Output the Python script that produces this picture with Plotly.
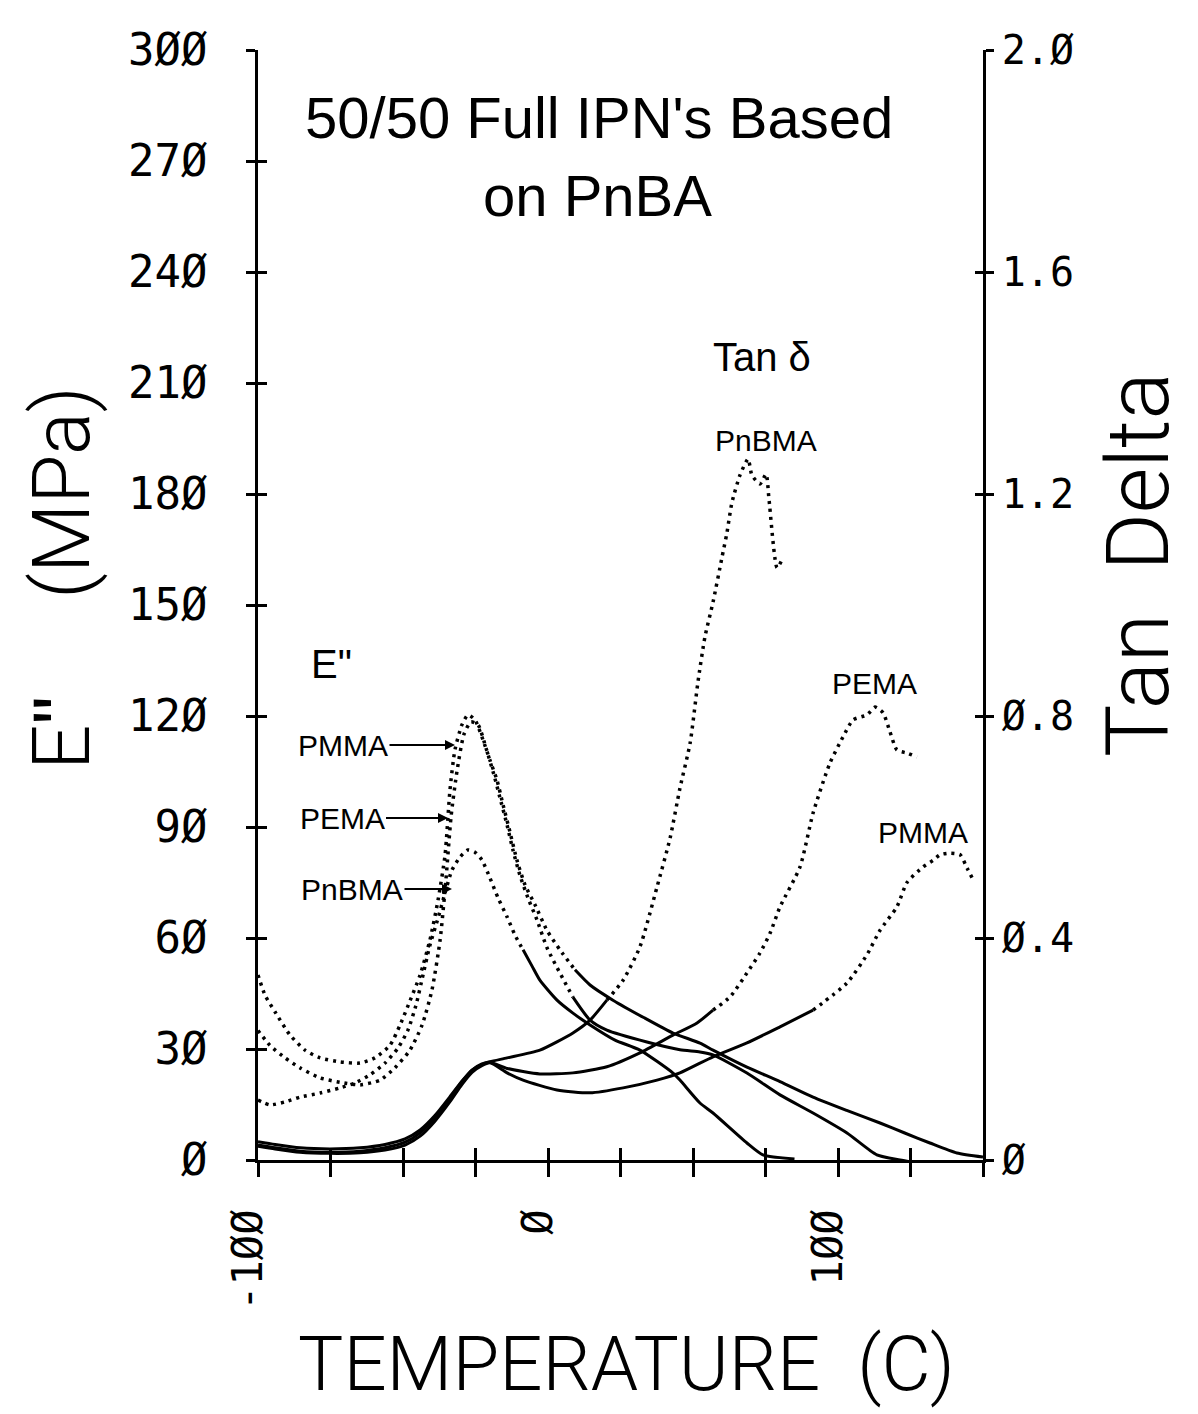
import plotly.graph_objects as go

# ---------------- data ----------------
# E'' (MPa), left axis
epp_pmma_T = [-100, -97.6, -94.1, -89, -83.8, -78.6, -71.7, -64.8, -59.7, -54.5,
              -51, -47.6, -44.1, -40.7, -37.9, -35.5, -33.8, -32.1, -29.7, -27.6,
              -25.2, -22.4, -20, -17.6, -15.5, -13.1, -10.7, -7.9, -4.5, -0.3,
              4.1, 9.3, 14.5, 22.4, 33, 43.1, 52.4, 56.9, 68.6, 80,
              91.4, 103, 114.5, 123, 131.7, 141, 150]
epp_pmma = [50, 44.6, 40, 33.8, 29.7, 27.6, 26.5, 26.2, 27.6, 31,
            36.5, 43, 50, 59.5, 70.3, 82.4, 100, 110.8, 117.6, 120.3,
            119, 113.5, 108, 102.7, 96, 88.6, 81, 74.3, 69, 62,
            56.8, 51.4, 47.3, 43.2, 38.5, 34.3, 31.6, 29.7, 25.1, 21.2,
            17, 13.4, 10, 7.3, 4.6, 1.9, 0.8]

epp_pema_T = [-100, -95.9, -90.7, -85.5, -78.6, -71.7, -64.8, -57.9, -52.8, -47.6,
              -43.4, -40, -37.2, -35.2, -33.4, -31.4, -29, -26.6, -24.1, -21.4,
              -18.6, -16.6, -14.1, -12.1, -9.7, -6.9, -3.8, -0.3, 8.6, 14.5,
              20.3, 34.1, 45.5, 52.4, 56.9, 68.6, 80, 91.4, 103.1, 113.4,
              121.4, 131.7]
epp_pema = [35, 31, 27.6, 24.9, 22.2, 21, 20.3, 21.6, 24.9, 29.7,
            36.5, 46, 59.5, 75.7, 93, 105, 115, 118.4, 117.6, 111.4,
            104, 98, 90.5, 83.8, 77, 70.8, 64.9, 57.3, 44, 37.8,
            35.1, 31.9, 29.8, 29.2, 28.4, 23.5, 17.6, 12.7, 7.3, 1.4,
            0, -1.4]

epp_pnbma_T = [-100, -95.9, -90.7, -85.5, -78.6, -71.7, -66.6, -61.4, -56.2, -51.7,
               -48.3, -45.5, -43.1, -40.7, -37.9, -35.5, -33.1, -30.3, -27.6, -25.2,
               -22.8, -20, -17.2, -14.1, -11.4, -8.6, -5.5, -2.8, 3.1, 8.6,
               14.5, 23.1, 31.7, 43.1, 45.5, 52.4, 56.9, 68.6, 74.1, 85]
epp_pnbma = [16.2, 14.9, 15.7, 17, 18.1, 19.5, 20.8, 23, 26.2, 30.3,
             35.1, 41.9, 50, 58.1, 65.4, 72.2, 78.4, 81.9, 83.8, 83.2,
             81.1, 76.2, 70.8, 65.7, 60.8, 56.8, 52.4, 48.6, 43.2, 39.7,
             36.5, 32.4, 29.7, 23.5, 21.6, 15.4, 12.7, 4.6, 1.4, 0.3]

# Tan delta, right axis
tan_pnbma_T = [-100, -94.1, -85.5, -75.2, -64.8, -56.2, -49.3, -44.1, -39, -33.8,
               -29.7, -26.2, -22.8, -20, -14.1, -2.8, 8.6, 14.5, 20.3, 25.9,
               31.7, 37.6, 42.1, 45.5, 49, 51.7, 54.1, 56.9, 60, 61.7,
               63.4, 66.2, 69, 70.3, 73.1, 75.2, 76.2, 79, 81]
tan_pnbma = [0.027, 0.022, 0.016, 0.014, 0.016, 0.022, 0.032, 0.049, 0.076, 0.112,
             0.141, 0.162, 0.173, 0.177, 0.184, 0.198, 0.229, 0.252, 0.288, 0.324,
             0.384, 0.492, 0.58, 0.67, 0.751, 0.861, 0.942, 1.005, 1.086, 1.13,
             1.184, 1.234, 1.263, 1.234, 1.218, 1.236, 1.191, 1.067, 1.085]

tan_pema_T = [-100, -94.1, -85.5, -75.2, -64.8, -56.2, -49.3, -44.1, -39, -33.8,
              -29.7, -26.2, -22.8, -20, -14.1, -2.8, 8.6, 20.3, 31.7, 43.1,
              51.4, 56.9, 62.8, 68.6, 73.1, 76.6, 80, 86.9, 91.4, 97.2,
              101.7, 105.2, 110, 112.8, 115.5, 117.9, 120.3, 124, 127.2]
tan_pema = [0.033, 0.028, 0.022, 0.02, 0.022, 0.028, 0.038, 0.054, 0.08, 0.114,
            0.142, 0.162, 0.172, 0.176, 0.165, 0.155, 0.157, 0.168, 0.193, 0.225,
            0.247, 0.27, 0.294, 0.337, 0.373, 0.409, 0.456, 0.528, 0.625, 0.715,
            0.762, 0.793, 0.802, 0.816, 0.806, 0.772, 0.739, 0.733, 0.726]

tan_pmma_T = [-100, -94.1, -85.5, -75.2, -64.8, -56.2, -49.3, -44.1, -39, -33.8,
              -29.7, -26.2, -22.8, -20, -14.1, -8.6, 3.1, 14.5, 25.9, 37.6,
              45.5, 56.9, 68.6, 80, 91.4, 103.1, 110, 114.5, 120.3, 123.8,
              129.3, 132.8, 135.2, 138.6, 142.1, 144.5, 146.6]
tan_pmma = [0.025, 0.02, 0.014, 0.012, 0.013, 0.018, 0.027, 0.043, 0.07, 0.105,
            0.136, 0.158, 0.17, 0.175, 0.157, 0.144, 0.126, 0.121, 0.13, 0.144,
            0.157, 0.186, 0.211, 0.24, 0.27, 0.319, 0.37, 0.414, 0.456, 0.5,
            0.528, 0.54, 0.55, 0.553, 0.55, 0.526, 0.505]

# ticks
x_tickvals = [-100, -75, -50, -25, 0, 25, 50, 75, 100, 125, 150]
x_ticktext = ["-1ØØ", "", "", "", "Ø", "", "", "", "1ØØ", "", ""]
y_tickvals = [0, 30, 60, 90, 120, 150, 180, 210, 240, 270, 300]
y_ticktext = ["Ø", "3Ø", "6Ø", "9Ø", "12Ø", "15Ø", "18Ø", "21Ø", "24Ø", "27Ø", "3ØØ"]
y2_tickvals = [0, 0.4, 0.8, 1.2, 1.6, 2.0]
y2_ticktext = ["Ø", "Ø.4", "Ø.8", "1.2", "1.6", "2.Ø"]

# ---------------- layout helpers ----------------
W, H = 1198, 1414
L, R, T, B = 258, 983, 50, 1160


def px(x):
    return (x - L) / (R - L)


def py(y):
    return (B - y) / (B - T)


def split(ts, vs, cut, solid_after):
    """split a curve at temperature `cut` into dotted / solid parts (style only)"""
    lo = [(t, v) for t, v in zip(ts, vs) if t <= cut]
    hi = [(t, v) for t, v in zip(ts, vs) if t >= cut]
    if lo and hi and lo[-1] != hi[0]:
        hi = [lo[-1]] + hi
    dotted, solid = (lo, hi) if solid_after else (hi, lo)
    return dotted, solid


fig = go.Figure()

DOT = dict(color="black", width=3.5, dash="3px,5px")
SOLID = dict(color="black", width=3)


def add_curve(ts, vs, cut, solid_after, yaxis, name):
    dotted, solid = split(ts, vs, cut, solid_after)
    for part, style in ((dotted, DOT), (solid, SOLID)):
        if len(part) > 1:
            fig.add_trace(go.Scatter(x=[p[0] for p in part], y=[p[1] for p in part],
                                     mode="lines", line=dict(shape="spline", smoothing=0.6, **style),
                                     yaxis=yaxis, name=name, hoverinfo="skip"))


add_curve(epp_pmma_T, epp_pmma, 10, True, "y", "E'' PMMA")
add_curve(epp_pema_T, epp_pema, 10, True, "y", "E'' PEMA")
add_curve(epp_pnbma_T, epp_pnbma, -6, True, "y", "E'' PnBMA")
add_curve(tan_pnbma_T, tan_pnbma, 22, False, "y2", "tan PnBMA")
add_curve(tan_pema_T, tan_pema, 60, False, "y2", "tan PEMA")
add_curve(tan_pmma_T, tan_pmma, 100, False, "y2", "tan PMMA")

# empty traces so the overlay tick axes are drawn
fig.add_trace(go.Scatter(x=[], y=[], xaxis="x2", yaxis="y", showlegend=False))
fig.add_trace(go.Scatter(x=[], y=[], xaxis="x", yaxis="y3", showlegend=False))
fig.add_trace(go.Scatter(x=[], y=[], xaxis="x", yaxis="y4", showlegend=False))

mono = dict(family="DejaVu Sans Mono, Liberation Mono, monospace", color="black")
axis_common = dict(showgrid=False, zeroline=False, tickcolor="black", tickwidth=2.5)

fig.update_layout(
    width=W, height=H,
    margin=dict(l=L, r=W - R, t=T, b=H - B, pad=0),
    paper_bgcolor="white", plot_bgcolor="white", showlegend=False,
    xaxis=dict(range=[-100, 150], tickvals=x_tickvals, ticktext=x_ticktext, ticks="outside",
               ticklen=14, showline=True, linewidth=2.5, linecolor="black", tickangle=-90,
               tickfont=dict(size=42, **mono), ticklabelstandoff=16, ticklabelshift=-10,
               **axis_common),
    xaxis2=dict(range=[-100, 150], overlaying="x", anchor="y", side="bottom",
                tickvals=x_tickvals, ticks="inside", ticklen=12, showticklabels=False, **axis_common),
    yaxis=dict(range=[0, 300], tickvals=y_tickvals, ticktext=y_ticktext, ticks="outside",
               ticklen=9, showline=True, linewidth=2.5, linecolor="black",
               tickfont=dict(size=44, **mono), ticklabelstandoff=30, **axis_common),
    yaxis3=dict(range=[0, 300], overlaying="y", anchor="x", side="left",
                tickvals=y_tickvals, ticks="inside", ticklen=9, showticklabels=False, **axis_common),
    yaxis2=dict(range=[0, 2], overlaying="y", anchor="x", side="right",
                tickvals=y2_tickvals, ticktext=y2_ticktext, ticks="outside",
                ticklen=8, showline=True, linewidth=2.5, linecolor="black",
                tickfont=dict(size=40, **mono), ticklabelstandoff=0, **axis_common),
    yaxis4=dict(range=[0, 2], overlaying="y", anchor="x", side="right",
                tickvals=y2_tickvals, ticks="inside", ticklen=8, showticklabels=False, **axis_common),
)

sans = "Liberation Sans, Arial, sans-serif"
plotter = "Roboto, DejaVu Sans, sans-serif"

ann = []


def label(text, x, y, size, family=sans, weight=None, **kw):
    font = dict(family=family, size=size, color="black")
    if weight:
        font["weight"] = weight
    d = dict(text=text, x=px(x), y=py(y), xref="paper", yref="paper", showarrow=False,
             font=font, xanchor="center", yanchor="middle")
    d.update(kw)
    ann.append(d)


label("50/50 Full IPN's Based", 599, 117, 58)
label("on PnBA", 597, 195, 58)
label('E"', 331, 664, 40)
label("Tan δ", 762, 357, 40)
label("PnBMA", 766, 441, 30)
label("PEMA", 874, 684, 30)
label("PMMA", 923, 832, 30)

# arrow labels on the E'' peaks
for text, tipx, tipy, off in (("PMMA", 455, 745, -112), ("PEMA", 448, 818, -106), ("PnBMA", 452, 889, -100)):
    ann.append(dict(text=text, x=px(tipx), y=py(tipy), xref="paper", yref="paper",
                    showarrow=True, arrowhead=2, arrowsize=1, arrowwidth=2, arrowcolor="black",
                    ax=off, ay=0, font=dict(family=sans, size=30, color="black")))

# axis titles
nb = "\u00a0"
label("E\u02BA" + nb * 5 + "(MPa)", 62, 578, 80, family=plotter, weight=300, textangle=-90)
label("Tan" + nb * 2 + "Delta", 1137, 565, 88, family=plotter, weight=300, textangle=-90)
label("TEMPERATURE" + nb * 2 + "(C)", 626, 1364, 76, family=plotter, weight=300)

fig.update_layout(annotations=ann)

fig.write_html("out.html", config={"displayModeBar": False},
               post_script="document.body.style.margin='0';")
